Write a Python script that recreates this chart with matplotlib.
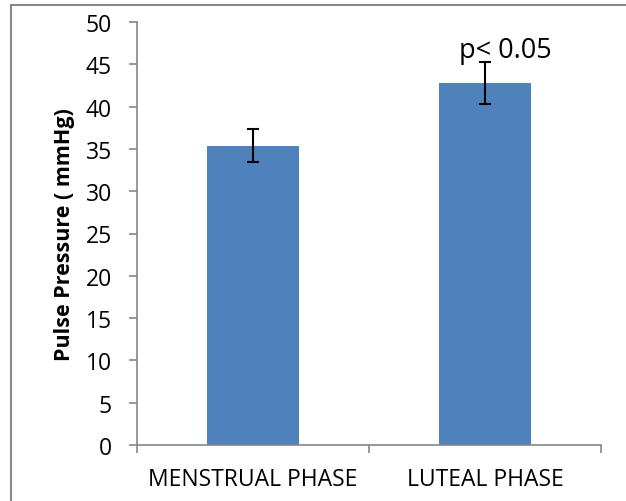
import matplotlib
matplotlib.use("Agg")
import matplotlib.pyplot as plt
from matplotlib.patches import Rectangle

# pulse pressure by cycle phase (mean and SD)
phases = ["MENSTRUAL PHASE", "LUTEAL PHASE"]
pulse_pressure = [35.4, 42.8]
pulse_sd = [1.9, 2.5]
sig_text = "p< 0.05"

plt.rcParams["font.family"] = ["Open Sans", "DejaVu Sans"]
axis_grey = "#868686"

fig = plt.figure(figsize=(6.26, 5.02), dpi=100)
ax = fig.add_axes([137 / 626, 1 - 446 / 502, 464 / 626, 423 / 502])

x = range(len(phases))
ax.bar(x, pulse_pressure, width=0.4, color="#4F81BD", zorder=2)
ax.errorbar(x, pulse_pressure, yerr=pulse_sd, fmt="none", ecolor="black",
            elinewidth=1.5, capsize=4.5, capthick=1.5, zorder=3)

# significance note sits just above the luteal error bar, nudged right
ax.text(1.086, pulse_pressure[1] + pulse_sd[1] + 0.6, sig_text, ha="center",
        va="baseline", fontsize=19.5)

ax.set_xlim(-0.5, 1.5)
ax.set_ylim(0, 50)
ax.set_yticks(range(0, 51, 5))
ax.set_xticks([-0.5, 0.5, 1.5])
ax.set_xticklabels([])
ax.set_xticks(list(x), minor=True)
ax.set_xticklabels(phases, minor=True)
ax.tick_params(axis="x", which="minor", length=0, pad=16, labelsize=16.5)
ax.tick_params(axis="x", which="major", length=6, color=axis_grey, width=1.2)
ax.tick_params(axis="y", length=6, color=axis_grey, width=1.2, pad=12, labelsize=16.5)

for side in ["top", "right"]:
    ax.spines[side].set_visible(False)
for side in ["left", "bottom"]:
    ax.spines[side].set_color(axis_grey)
    ax.spines[side].set_linewidth(1.2)

ax.set_ylabel("Pulse Pressure ( mmHg)", fontsize=15.5, fontweight="bold", labelpad=8)

# chart-area frame
fig.patches.append(Rectangle((11 / 626, -0.1), 1.2, (502 - 5.5) / 502 + 0.1,
                             transform=fig.transFigure, fill=False,
                             edgecolor="#888888", linewidth=1.5))

fig.savefig("out.png", dpi=100)
